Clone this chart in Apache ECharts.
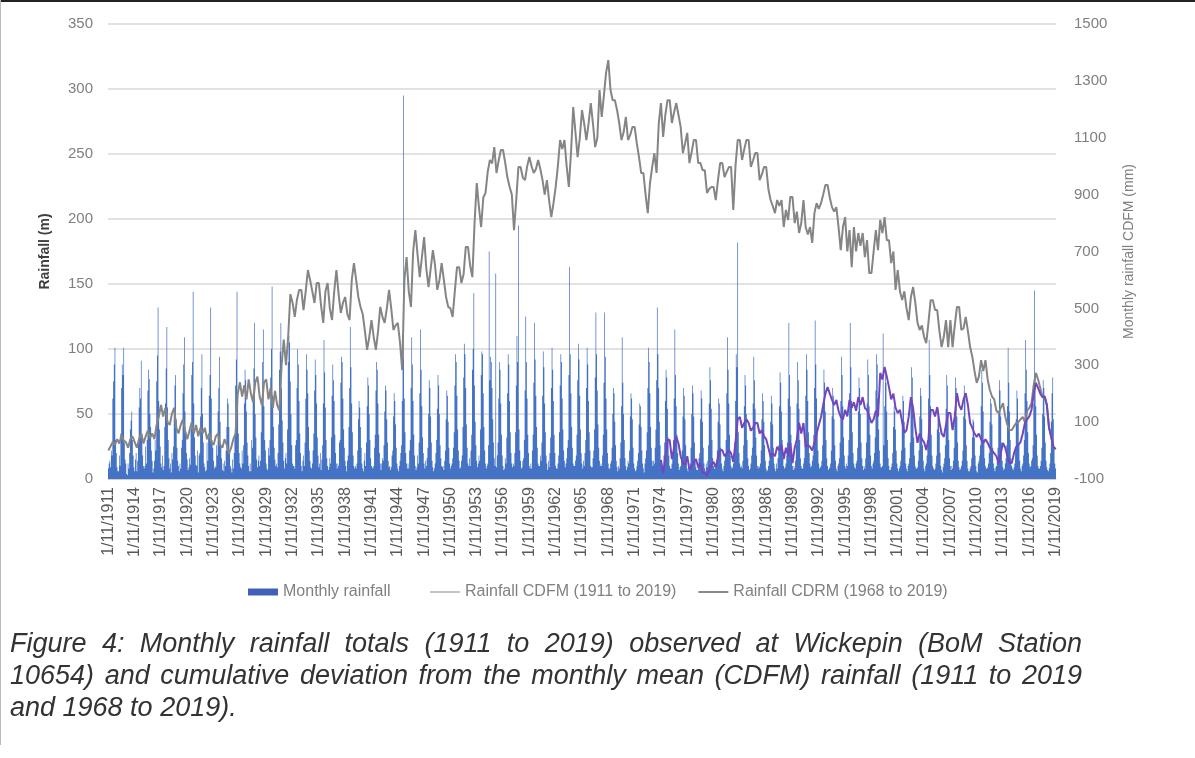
<!DOCTYPE html>
<html>
<head>
<meta charset="utf-8">
<script src="https://cdn.jsdelivr.net/npm/echarts@6/dist/echarts.min.js"></script>
<style>
html,body{margin:0;padding:0;background:#fff;}
#wrap{position:relative;width:1195px;height:758px;overflow:hidden;}
#chart{position:absolute;left:0;top:0;width:1195px;height:758px;}
#caption{position:absolute;left:10px;top:627px;width:1072px;font-family:"Liberation Sans",Arial,sans-serif;font-style:italic;font-size:27px;line-height:32px;color:#333;}
#caption div{white-space:nowrap;}
#caption .j{text-align:justify;text-align-last:justify;white-space:normal;}
#frameTop{position:absolute;left:0;top:0;width:1195px;height:2px;background:#222;}
#frameLeft{position:absolute;left:0;top:0;width:1px;height:745px;background:#bbb;}
</style>
</head>
<body>
<div id="wrap">
<div id="chart"></div>
<div id="frameTop"></div>
<div id="frameLeft"></div>
<div id="caption">
<div class="j">Figure 4: Monthly rainfall totals (1911 to 2019) observed at Wickepin (BoM Station</div>
<div class="j">10654) and cumulative deviation from the monthly mean (CDFM) rainfall (1911 to 2019</div>
<div>and 1968 to 2019).</div>
</div>
</div>
<script>
// ---- DATA ----
// Monthly rainfall (mm), one row per calendar year; first row = Nov, Dec 1911; last row = Jan..Nov 2019
const monthlyRainfall = [
[8,12],
[14,9,22,18,62,75,88,101,30,20,9,6],
[6,18,10,35,70,88,80,101,28,15,12,4],
[3,12,8,20,38,45,52,30,18,9,6,15],
[20,6,14,28,55,70,62,91,35,18,10,8],
[10,25,12,30,68,84,77,50,40,22,14,5],
[8,14,30,22,75,95,132,60,38,25,12,9],
[18,7,10,40,58,85,117,55,30,16,8,12],
[5,20,15,25,50,72,80,46,24,14,10,6],
[12,8,24,30,66,88,109,52,36,20,15,7],
[9,16,11,38,80,90,144,58,32,18,11,10],
[22,5,18,20,48,70,96,50,28,12,9,6],
[7,28,14,32,64,80,132,62,30,24,14,8],
[10,9,26,18,52,70,94,44,26,16,7,12],
[6,14,10,22,40,62,58,40,22,10,8,5],
[15,8,20,34,72,92,144,60,35,20,12,9],
[8,22,12,26,58,84,76,52,28,18,10,6],
[12,6,30,24,66,85,120,50,32,15,9,14],
[18,10,14,36,60,90,115,56,30,22,12,8],
[7,24,18,30,78,100,148,64,40,24,15,10],
[12,9,20,42,84,98,120,70,45,28,14,8],
[16,20,12,38,90,110,105,75,50,26,12,10],
[10,8,26,30,70,100,88,60,35,20,10,6],
[14,18,10,28,62,96,84,66,40,22,14,9],
[8,12,22,35,68,92,80,58,32,18,9,12],
[20,7,15,26,58,107,82,55,30,16,10,7],
[9,16,12,32,64,88,76,60,34,20,12,8],
[12,10,28,30,74,94,90,62,38,24,14,10],
[6,14,18,40,70,117,86,58,36,18,10,8],
[10,8,12,22,46,60,55,40,24,12,8,6],
[14,20,10,28,56,78,72,50,30,16,10,9],
[8,10,24,34,68,90,84,58,34,20,12,7],
[12,16,14,26,52,72,68,46,28,14,9,10],
[7,9,18,22,48,66,60,42,24,12,8,6],
[10,14,20,26,60,92,295,62,36,20,12,8],
[12,8,22,30,70,109,88,60,34,18,10,7],
[9,18,12,28,66,115,84,56,32,20,12,8],
[14,10,16,24,50,76,70,48,28,14,9,6],
[8,12,20,30,54,80,72,50,26,16,10,9],
[10,7,14,22,46,68,64,44,24,12,8,10],
[12,16,24,36,72,96,90,64,38,22,14,8],
[9,14,18,40,78,104,96,70,42,24,12,10],
[16,10,22,34,84,100,143,72,44,26,14,9],
[12,18,14,38,80,98,96,66,40,22,12,8],
[10,12,26,175,76,94,90,70,46,28,16,10],
[158,9,18,28,62,90,84,58,34,18,10,7],
[8,16,12,32,66,96,88,60,36,20,12,9],
[12,10,20,36,72,110,90,195,38,22,14,8],
[9,14,16,30,68,125,90,62,34,20,10,8],
[12,8,22,34,74,120,92,64,40,24,12,10],
[10,18,14,28,64,98,86,58,36,18,12,7],
[14,9,20,32,70,101,84,60,34,20,10,8],
[8,12,18,36,72,96,90,62,38,22,14,9],
[12,16,24,30,80,163,96,66,40,24,12,10],
[10,14,18,34,76,104,92,64,38,20,12,8],
[14,10,20,30,70,101,88,60,36,22,10,9],
[9,16,22,38,78,128,96,68,42,24,14,10],
[12,10,18,34,74,128,94,62,38,20,12,8],
[8,12,14,24,50,70,66,44,26,14,9,6],
[10,8,16,28,56,109,74,50,30,16,10,7],
[9,14,12,22,48,66,62,46,24,12,8,6],
[7,10,14,20,42,58,56,40,22,12,8,5],
[12,16,22,36,70,101,90,66,40,24,14,10],
[14,12,24,38,76,132,96,70,44,26,14,9],
[10,9,18,28,60,84,78,54,32,18,10,8],
[8,12,16,30,62,115,80,56,34,20,12,7],
[9,10,14,22,48,70,64,46,26,14,8,6],
[10,8,12,24,50,72,66,48,28,14,9,7],
[7,12,16,20,46,68,62,44,24,12,8,6],
[12,9,14,26,58,86,76,54,30,16,10,8],
[8,10,12,22,44,62,58,42,24,12,8,6],
[10,14,18,30,66,109,84,58,34,18,10,8],
[9,12,16,28,60,96,86,182,36,20,12,9],
[10,8,14,26,56,80,72,50,30,16,10,7],
[8,12,18,24,58,94,76,54,32,18,10,8],
[10,9,12,22,46,66,60,44,26,14,8,6],
[7,10,14,20,44,64,58,42,24,12,8,6],
[12,8,16,26,56,82,74,52,30,16,10,8],
[9,12,18,28,62,120,80,56,34,18,10,7],
[10,8,14,26,58,90,76,54,30,16,10,8],
[8,12,16,30,64,96,84,60,36,20,12,9],
[10,14,18,34,70,122,88,62,38,22,12,8],
[9,10,14,26,56,84,74,52,30,16,10,7],
[8,9,12,22,48,70,64,46,26,14,8,6],
[10,12,16,28,60,94,80,56,32,18,10,8],
[12,10,18,30,66,120,86,60,36,20,12,9],
[8,12,14,24,52,78,70,50,28,16,10,7],
[10,8,16,28,58,92,80,56,34,18,10,8],
[12,14,20,32,68,96,88,62,38,22,12,9],
[9,10,112,26,56,82,74,52,30,16,10,7],
[7,9,12,20,40,56,52,38,22,12,8,6],
[8,10,14,22,46,64,60,44,24,12,8,6],
[10,12,16,28,58,86,78,54,32,18,10,8],
[8,9,14,22,48,70,64,46,26,14,8,6],
[10,12,18,30,62,107,80,56,34,18,10,8],
[7,8,12,18,38,54,50,36,20,10,7,5],
[9,12,16,26,54,80,72,50,30,16,10,7],
[10,8,14,24,52,78,70,48,28,14,9,7],
[8,10,14,22,48,72,66,46,26,14,8,6],
[6,8,10,16,32,46,44,32,18,10,6,5],
[12,14,18,26,56,84,74,52,30,16,10,8],
[8,9,12,20,44,62,58,42,24,12,8,6],
[9,10,14,24,50,76,68,48,28,14,9,7],
[8,12,16,26,56,101,74,52,30,16,10,8],
[7,9,12,22,46,68,62,44,26,14,8,6],
[10,12,18,30,66,107,84,60,36,20,12,9],
[10,14,16,26,58,145,80,56,34,18,10,8],
[8,10,14,24,50,76,70,48,28,14,9,7],
[6,8,12,20,44,66,78,46,24,12,8]
];

// CDFM 1911-2019 (mm), one value every 3 months starting Nov 1911
const cdfm1911 = [
0,15,30,20, 40,25,55,35, 30,10,40,50, 30,10,40,60, 25,50,70,45,
60,40,90,120, 160,120,150,100, 90,130,150,80, 60,90,110,70, 40,70,100,60,
90,50,80,60, 80,40,60,30, 20,50,60,20, 10,40,20,-10, 10,40,60,200,
240,190,230,180, 250,200,170,240, 260,190,160,240, 250,180,220,150, 210,160,140,300,
390,300,400,550, 520,470,530,565, 565,494,560,635, 600,560,519,589, 589,510,449,560,
589,500,459,560, 635,550,484,520, 540,480,459,600, 659,600,540,505, 480,420,354,400,
459,400,354,420, 505,470,449,500, 565,500,424,440, 449,380,283,600, 680,560,505,700,
775,690,610,680, 751,640,575,640, 705,650,565,600, 659,600,540,505, 500,470,560,645,
645,589,620,716, 716,650,610,800, 941,856,786,890, 906,980,1022,1010, 1067,976,1020,1057,
1057,1011,960,927, 900,775,880,997, 997,960,951,1000, 1032,1000,976,990, 1022,990,951,900,
951,880,821,870, 927,1000,1092,1060, 1092,1000,927,1050, 1208,1120,1032,1100, 1197,1150,1092,1150,
1222,1150,1067,1100, 1268,1173,1250,1330, 1373,1268,1232,1232, 1197,1150,1092,1120, 1173,1092,1110,1138,
1138,1080,1032,976, 976,900,835,940, 997,1046,976,1150, 1222,1103,1180,1232, 1232,1152,1190,1222,
1180,1138,1046,1080, 1117,1011,1050,1092, 1092,1011,1011,986, 986,906,920,927, 927,881,950,1011,
1011,962,980,997, 997,846,1000,1092, 1092,1022,1060,1092, 1092,997,1020,1046, 1046,951,970,997,
997,920,881,860, 835,881,860,881, 786,846,811,892, 892,800,840,765, 800,881,786,760,
786,730,835,870, 850,870,900,934, 934,890,856,840, 856,786,705,786, 821,700,775,645,
786,700,765,720, 765,680,740,624, 624,700,775,705, 811,765,821,740, 740,659,700,565,
635,560,529,560, 500,459,540,575, 520,450,424,440, 400,378,450,529, 529,494,494,420,
364,400,459,364, 459,364,440,505, 505,424,430,470, 420,364,330,280, 238,260,318,280,
318,250,213,190, 180,140,132,150, 167,120,90,72, 72,85,97,100, 110,118,100,140,
150,167,230,273, 250,220,188,190, 160,80,48,13, 5
];

// CDRM 1968-2019 (mm), one value every 3 months; the visible part starts Nov 1974 (earlier values lie below the axis)
const cdrm1968 = [
-33,-80,-25,37, 37,-30,10,48, 25,-20,-44,-50, -20,-68,-55,-40,
-30,-60,-44,-79, -79,-90,-70,-50, -40,-60,-23,0, 2,-20,-10,2, -10,-40,30,110,
118,80,97,110, 97,70,80,97, 97,60,72,50, 40,10,-23,-10, -20,13,0,20,
-30,10,-20,27, -44,10,40,97, 60,97,13,20, 13,0,27,60, 90,118,160,200,
223,200,178,160, 178,140,118,110, 143,120,178,150, 170,140,188,160, 188,150,143,120,
97,110,140,120, 273,250,294,260, 223,180,200,150, 132,143,100,62, 72,120,188,150,
80,27,60,40, 30,2,40,143, 143,120,153,100, 60,48,90,132, 132,72,120,202,
160,143,180,202, 160,97,80,60, 48,60,40,27, 40,27,10,0, -10,-20,-44,-10,
27,10,-20,-44, -44,-10,13,20, 30,60,97,110, 120,143,200,238, 220,200,188,190,
160,80,48,13, 5
];

const firstMonth = { year: 1911, month: 11 };
const cdrmStartIndex = 756; // Nov 1974, months after Nov 1911
const leftTicks = { min: 0, max: 350, interval: 50 };
const rightTicks = { min: -100, max: 1500, interval: 200 };

// ---- BUILD ----
const rain = [].concat(...monthlyRainfall);
const categories = rain.map((_, i) => {
  const m0 = firstMonth.month - 1 + i;
  const y = firstMonth.year + Math.floor(m0 / 12);
  return '1/' + ((m0 % 12) + 1) + '/' + y;
});
const cdfmData = cdfm1911.map((v, k) => [k * 3, v]);
const cdrmData = cdrm1968.map((v, k) => [cdrmStartIndex + k * 3, v]);

const FONT = '"Liberation Sans", Arial, sans-serif';
const legendText = { color: '#808080', fontSize: 16, fontFamily: FONT };
const chart = echarts.init(document.getElementById('chart'), null, { renderer: 'canvas' });
chart.setOption({
  animation: false,
  backgroundColor: '#ffffff',
  textStyle: { fontFamily: FONT },
  grid: { left: 108, right: 139, top: 24, bottom: 279, containLabel: false },
  legend: [
    {
      left: 243, top: 579, itemWidth: 30, itemHeight: 7, textStyle: legendText,
      data: [{ name: 'Monthly rainfall', icon: 'rect', itemStyle: { color: '#4060b8' } }]
    },
    {
      left: 425, top: 579, itemGap: 22, itemWidth: 30, itemHeight: 2, textStyle: legendText,
      data: [
        { name: 'Rainfall CDFM (1911 to 2019)', icon: 'rect', itemStyle: { color: '#c4c4c4' } },
        { name: 'Rainfall CDRM (1968 to 2019)', icon: 'rect', itemStyle: { color: '#8a8a8a' } }
      ]
    }
  ],
  xAxis: {
    type: 'category', data: categories, boundaryGap: true,
    axisLine: { show: true, lineStyle: { color: '#d0d0d0', width: 1 } },
    axisTick: { show: false },
    axisLabel: { interval: 35, rotate: 90, color: '#595959', fontSize: 16, margin: 8, fontFamily: FONT }
  },
  yAxis: [
    {
      type: 'value', min: leftTicks.min, max: leftTicks.max, interval: leftTicks.interval,
      name: 'Rainfall (m)', nameLocation: 'middle', nameGap: 56, nameRotate: 90,
      nameTextStyle: { color: '#404040', fontSize: 14, fontWeight: 'bold', fontFamily: FONT },
      axisLine: { show: false }, axisTick: { show: false },
      axisLabel: { color: '#7f7f7f', fontSize: 15, margin: 15, fontFamily: FONT },
      splitLine: { show: true, lineStyle: { color: '#d9d9d9', width: 1.5 } }
    },
    {
      type: 'value', min: rightTicks.min, max: rightTicks.max, interval: rightTicks.interval,
      name: 'Monthly rainfall CDFM (mm)', nameLocation: 'middle', nameGap: 66, nameRotate: 90,
      nameTextStyle: { color: '#7f7f7f', fontSize: 14, fontFamily: FONT },
      axisLine: { show: false }, axisTick: { show: false },
      axisLabel: { color: '#7f7f7f', fontSize: 15, margin: 18, fontFamily: FONT, formatter: v => String(v) },
      splitLine: { show: false }
    }
  ],
  series: [
    {
      name: 'Monthly rainfall', type: 'bar', yAxisIndex: 0, data: rain,
      barCategoryGap: '0%', large: true, largeThreshold: 400,
      itemStyle: { color: '#4472c4' }
    },
    {
      name: 'Rainfall CDFM (1911 to 2019)', type: 'line', yAxisIndex: 1, data: cdfmData,
      symbol: 'none', showSymbol: false, clip: true,
      lineStyle: { color: '#858585', width: 2 }, itemStyle: { color: '#858585' }, z: 3
    },
    {
      name: 'Rainfall CDRM (1968 to 2019)', type: 'line', yAxisIndex: 1, data: cdrmData,
      symbol: 'none', showSymbol: false, clip: true,
      lineStyle: { color: '#7446bc', width: 2 }, itemStyle: { color: '#7446bc' }, z: 4
    }
  ]
});
</script>
</body>
</html>
